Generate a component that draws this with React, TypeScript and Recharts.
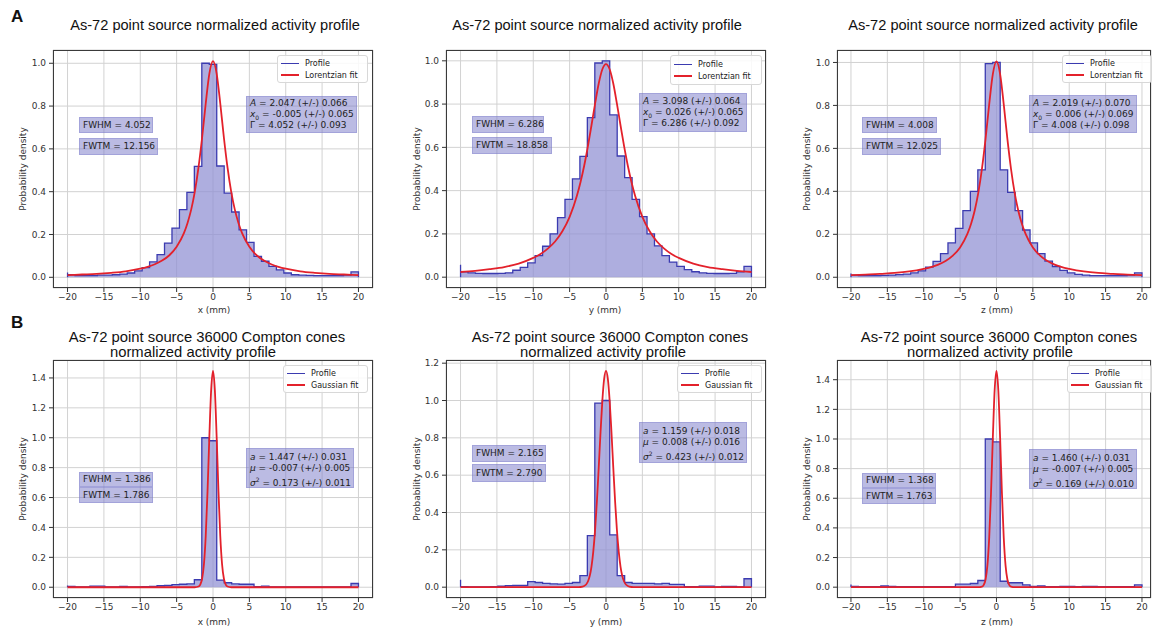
import React from 'react';
import { ComposedChart, Area, Line, XAxis, YAxis, CartesianGrid } from 'recharts';

const X_TICKS = [-20, -15, -10, -5, 0, 5, 10, 15, 20];
const Y_TICKS_10 = [0, 0.2, 0.4, 0.6, 0.8, 1.0];
const Y_TICKS_12 = [0, 0.2, 0.4, 0.6, 0.8, 1.0, 1.2];
const Y_TICKS_14 = [0, 0.2, 0.4, 0.6, 0.8, 1.0, 1.2, 1.4];

// histogram: 39 bins from -20 to 20 mm
const BIN_START = -20;
const BIN_END = 20;

const PROFILE_A_X = [0.012, 0.008, 0.008, 0.008, 0.01, 0.01, 0.012, 0.015, 0.02, 0.03, 0.045, 0.072, 0.106, 0.16, 0.23, 0.316, 0.397, 0.518, 1.0, 0.995, 0.52, 0.393, 0.305, 0.222, 0.163, 0.098, 0.075, 0.051, 0.035, 0.02, 0.012, 0.01, 0.009, 0.008, 0.008, 0.008, 0.008, 0.01, 0.025];
const PROFILE_A_Y = [0.025, 0.02, 0.018, 0.017, 0.017, 0.018, 0.02, 0.032, 0.045, 0.066, 0.1, 0.143, 0.2, 0.275, 0.36, 0.454, 0.558, 0.737, 0.99, 1.0, 0.75, 0.56, 0.46, 0.36, 0.28, 0.2, 0.145, 0.1, 0.07, 0.05, 0.035, 0.025, 0.02, 0.018, 0.017, 0.017, 0.018, 0.025, 0.05];
const PROFILE_A_Z = [0.01, 0.008, 0.008, 0.008, 0.009, 0.01, 0.012, 0.015, 0.02, 0.03, 0.047, 0.074, 0.11, 0.16, 0.228, 0.31, 0.4, 0.5, 0.995, 1.0, 0.5, 0.395, 0.31, 0.22, 0.16, 0.11, 0.075, 0.05, 0.032, 0.02, 0.013, 0.01, 0.008, 0.008, 0.008, 0.008, 0.008, 0.01, 0.02];
const PROFILE_B_X = [0.006, 0.003, 0.003, 0.008, 0.008, 0.003, 0.003, 0.005, 0.002, 0.003, 0.004, 0.006, 0.01, 0.012, 0.018, 0.02, 0.022, 0.05, 1.0, 0.98, 0.048, 0.03, 0.022, 0.02, 0.02, 0.004, 0.008, 0.003, 0.002, 0.002, 0.002, 0.003, 0.002, 0.002, 0.002, 0.002, 0.002, 0.002, 0.025];
const PROFILE_B_Y = [0.003, 0.002, 0.002, 0.002, 0.003, 0.005, 0.008, 0.01, 0.01, 0.03, 0.025, 0.02, 0.018, 0.016, 0.02, 0.025, 0.062, 0.276, 0.986, 1.0, 0.28, 0.062, 0.025, 0.02, 0.02, 0.02, 0.018, 0.02, 0.015, 0.015, 0.003, 0.003, 0.006, 0.006, 0.002, 0.004, 0.004, 0.002, 0.045];
const PROFILE_B_Z = [0.005, 0.003, 0.003, 0.003, 0.008, 0.006, 0.003, 0.003, 0.003, 0.004, 0.004, 0.003, 0.003, 0.004, 0.02, 0.02, 0.025, 0.045, 1.0, 0.98, 0.04, 0.03, 0.03, 0.015, 0.005, 0.008, 0.003, 0.003, 0.005, 0.005, 0.003, 0.005, 0.005, 0.003, 0.003, 0.003, 0.003, 0.003, 0.015];
// first-edge spike heights at x = -20
const EDGE_SPIKES = [0.022, 0.058, 0.018, 0.012, 0.04, 0.018];

const LOR_X = [-20, -18, -16, -14, -12, -10, -9, -8, -7, -6, -5, -4, -3.5, -3, -2.5, -2, -1.5, -1, -0.5, 0, 0.5, 1, 1.5, 2, 2.5, 3, 3.5, 4, 5, 6, 7, 8, 9, 10, 12, 14, 16, 18, 20];
const FIT_A_X = [0.010, 0.013, 0.016, 0.021, 0.028, 0.040, 0.049, 0.061, 0.078, 0.103, 0.143, 0.206, 0.254, 0.316, 0.400, 0.512, 0.652, 0.812, 0.952, 1.010, 0.952, 0.812, 0.652, 0.512, 0.400, 0.316, 0.254, 0.206, 0.143, 0.103, 0.078, 0.061, 0.049, 0.040, 0.028, 0.021, 0.016, 0.013, 0.010];
const FIT_A_Y = [0.024, 0.029, 0.037, 0.047, 0.063, 0.089, 0.107, 0.132, 0.165, 0.212, 0.279, 0.376, 0.440, 0.515, 0.603, 0.701, 0.802, 0.895, 0.961, 0.985, 0.961, 0.895, 0.802, 0.701, 0.603, 0.515, 0.440, 0.376, 0.279, 0.212, 0.165, 0.132, 0.107, 0.089, 0.063, 0.047, 0.037, 0.029, 0.024];
const FIT_A_Z = [0.010, 0.012, 0.016, 0.020, 0.027, 0.039, 0.047, 0.059, 0.076, 0.101, 0.139, 0.202, 0.248, 0.310, 0.393, 0.504, 0.644, 0.805, 0.946, 1.005, 0.946, 0.805, 0.644, 0.504, 0.393, 0.310, 0.248, 0.202, 0.139, 0.101, 0.076, 0.059, 0.047, 0.039, 0.027, 0.020, 0.016, 0.012, 0.010];

const GAUSS_X = [-20, -10, -5, -4, -3.5, -3, -2.5, -2, -1.75, -1.5, -1.25, -1, -0.75, -0.5, -0.25, 0, 0.25, 0.5, 0.75, 1, 1.25, 1.5, 1.75, 2, 2.5, 3, 3.5, 4, 5, 10, 20];
const FIT_B_X = [0, 0, 0, 0, 0, 0, 0, 0.005, 0.018, 0.057, 0.152, 0.343, 0.643, 1.009, 1.322, 1.447, 1.322, 1.009, 0.643, 0.343, 0.152, 0.057, 0.018, 0.005, 0, 0, 0, 0, 0, 0, 0];
const FIT_B_Y = [0, 0, 0, 0, 0.001, 0.006, 0.029, 0.109, 0.190, 0.307, 0.460, 0.642, 0.831, 1.000, 1.117, 1.159, 1.117, 1.000, 0.831, 0.642, 0.460, 0.307, 0.190, 0.109, 0.029, 0.006, 0.001, 0, 0, 0, 0];
const FIT_B_Z = [0, 0, 0, 0, 0, 0, 0, 0.004, 0.016, 0.052, 0.145, 0.333, 0.635, 1.009, 1.331, 1.460, 1.331, 1.009, 0.635, 0.333, 0.145, 0.052, 0.016, 0.004, 0, 0, 0, 0, 0, 0, 0];

const TITLE_A = 'As-72 point source normalized activity profile';
const TITLE_B1 = 'As-72 point source 36000 Compton cones';
const TITLE_B2 = 'normalized activity profile';
const AXIS_NAMES = ['x (mm)', 'y (mm)', 'z (mm)'];
const FWHM_VALUES = ['4.052', '6.286', '4.008', '1.386', '2.165', '1.368'];
const FWTM_VALUES = ['12.156', '18.858', '12.025', '1.786', '2.790', '1.763'];
const LOR_PARAMS = [
  ['2.047 (+/-) 0.066', '-0.005 (+/-) 0.065', '4.052 (+/-) 0.093'],
  ['3.098 (+/-) 0.064', '0.026 (+/-) 0.065', '6.286 (+/-) 0.092'],
  ['2.019 (+/-) 0.070', '0.006 (+/-) 0.069', '4.008 (+/-) 0.098'],
];
const GAUSS_PARAMS = [
  ['1.447 (+/-) 0.031', '-0.007 (+/-) 0.005', '0.173 (+/-) 0.011'],
  ['1.159 (+/-) 0.018', '0.008 (+/-) 0.016', '0.423 (+/-) 0.012'],
  ['1.460 (+/-) 0.031', '-0.007 (+/-) 0.005', '0.169 (+/-) 0.010'],
];

const PROFILE_STROKE = '#3b3bb0';
const PROFILE_FILL = '#8f8fd2';
const FIT_COLOR = '#e3212b';
const BOX_BG = 'rgba(120,120,200,0.5)';
const TICK_FONT = 'DejaVu Sans, sans-serif';
const TITLE_FONT = 'Liberation Sans, Arial, sans-serif';

type Rect = { l: number; t: number; w: number; h: number };
type PanelSpec = {
  plot: Rect;
  xDomain: [number, number];
  yDomain: [number, number];
  yTicks: number[];
  profile: number[];
  spike: number;
  fitX: number[];
  fit: number[];
  fitName: string;
  axis: string;
  kind: 'lor' | 'gauss';
  params: string[];
  fwhm: string;
  fwtm: string;
  paramBox: Rect;
  fwhmBox: Rect;
  fwtmBox: Rect;
  legend: Rect;
  title: { x: number; y: number }[];
  xLabel: { x: number; y: number };
  yLabelX: number;
};

const PANELS: PanelSpec[] = [
  {
    plot: { l: 53, t: 50, w: 320, h: 238 }, xDomain: [-22, 22], yDomain: [-0.05, 1.062], yTicks: Y_TICKS_10,
    profile: PROFILE_A_X, spike: EDGE_SPIKES[0], fitX: LOR_X, fit: FIT_A_X, fitName: 'Lorentzian fit', axis: AXIS_NAMES[0],
    kind: 'lor', params: LOR_PARAMS[0], fwhm: FWHM_VALUES[0], fwtm: FWTM_VALUES[0],
    paramBox: { l: 246, t: 96, w: 111, h: 37 }, fwhmBox: { l: 79, t: 117, w: 74, h: 16 }, fwtmBox: { l: 79, t: 138, w: 79, h: 17 },
    legend: { l: 277, t: 55, w: 91, h: 28 }, title: [{ x: 215, y: 25 }], xLabel: { x: 214, y: 310 }, yLabelX: 23,
  },
  {
    plot: { l: 446, t: 50, w: 320, h: 238 }, xDomain: [-22, 22], yDomain: [-0.05, 1.05], yTicks: Y_TICKS_10,
    profile: PROFILE_A_Y, spike: EDGE_SPIKES[1], fitX: LOR_X, fit: FIT_A_Y, fitName: 'Lorentzian fit', axis: AXIS_NAMES[1],
    kind: 'lor', params: LOR_PARAMS[1], fwhm: FWHM_VALUES[1], fwtm: FWTM_VALUES[1],
    paramBox: { l: 639, t: 93, w: 108, h: 39 }, fwhmBox: { l: 472, t: 116, w: 72, h: 17 }, fwtmBox: { l: 472, t: 137, w: 80, h: 17 },
    legend: { l: 670, t: 55, w: 92, h: 30 }, title: [{ x: 597, y: 25 }], xLabel: { x: 605, y: 310 }, yLabelX: 417,
  },
  {
    plot: { l: 837, t: 50, w: 314, h: 238 }, xDomain: [-21.92, 21.24], yDomain: [-0.05, 1.058], yTicks: Y_TICKS_10,
    profile: PROFILE_A_Z, spike: EDGE_SPIKES[2], fitX: LOR_X, fit: FIT_A_Z, fitName: 'Lorentzian fit', axis: AXIS_NAMES[2],
    kind: 'lor', params: LOR_PARAMS[2], fwhm: FWHM_VALUES[2], fwtm: FWTM_VALUES[2],
    paramBox: { l: 1029, t: 95, w: 108, h: 38 }, fwhmBox: { l: 862, t: 117, w: 75, h: 16 }, fwtmBox: { l: 862, t: 138, w: 79, h: 17 },
    legend: { l: 1062, t: 55, w: 90, h: 28 }, title: [{ x: 993, y: 25 }], xLabel: { x: 997, y: 310 }, yLabelX: 807,
  },
  {
    plot: { l: 53, t: 360, w: 320, h: 238 }, xDomain: [-22, 22], yDomain: [-0.072, 1.52], yTicks: Y_TICKS_14,
    profile: PROFILE_B_X, spike: EDGE_SPIKES[3], fitX: GAUSS_X, fit: FIT_B_X, fitName: 'Gaussian fit', axis: AXIS_NAMES[0],
    kind: 'gauss', params: GAUSS_PARAMS[0], fwhm: FWHM_VALUES[3], fwtm: FWTM_VALUES[3],
    paramBox: { l: 246, t: 448, w: 108, h: 40 }, fwhmBox: { l: 79, t: 472, w: 74, h: 15 }, fwtmBox: { l: 79, t: 487, w: 74, h: 16 },
    legend: { l: 283, t: 365, w: 85, h: 28 }, title: [{ x: 207, y: 337 }, { x: 193, y: 352 }], xLabel: { x: 214, y: 622 }, yLabelX: 23,
  },
  {
    plot: { l: 446, t: 360, w: 320, h: 238 }, xDomain: [-22, 22], yDomain: [-0.058, 1.217], yTicks: Y_TICKS_12,
    profile: PROFILE_B_Y, spike: EDGE_SPIKES[4], fitX: GAUSS_X, fit: FIT_B_Y, fitName: 'Gaussian fit', axis: AXIS_NAMES[1],
    kind: 'gauss', params: GAUSS_PARAMS[1], fwhm: FWHM_VALUES[4], fwtm: FWTM_VALUES[4],
    paramBox: { l: 639, t: 422, w: 108, h: 41 }, fwhmBox: { l: 472, t: 445, w: 74, h: 17 }, fwtmBox: { l: 472, t: 464, w: 74, h: 18 },
    legend: { l: 677, t: 365, w: 85, h: 28 }, title: [{ x: 610, y: 337 }, { x: 603, y: 352 }], xLabel: { x: 606, y: 622 }, yLabelX: 417,
  },
  {
    plot: { l: 837, t: 360, w: 314, h: 238 }, xDomain: [-21.92, 21.24], yDomain: [-0.073, 1.533], yTicks: Y_TICKS_14,
    profile: PROFILE_B_Z, spike: EDGE_SPIKES[5], fitX: GAUSS_X, fit: FIT_B_Z, fitName: 'Gaussian fit', axis: AXIS_NAMES[2],
    kind: 'gauss', params: GAUSS_PARAMS[2], fwhm: FWHM_VALUES[5], fwtm: FWTM_VALUES[5],
    paramBox: { l: 1029, t: 449, w: 108, h: 40 }, fwhmBox: { l: 862, t: 473, w: 74, h: 15 }, fwtmBox: { l: 862, t: 488, w: 74, h: 16 },
    legend: { l: 1067, t: 365, w: 85, h: 28 }, title: [{ x: 999, y: 337 }, { x: 990, y: 352 }], xLabel: { x: 997, y: 622 }, yLabelX: 807,
  },
];

// step outline points: bin edges with the bin height held until the next edge
function toSteps(values: number[], spike: number) {
  const w = (BIN_END - BIN_START) / values.length;
  const pts = [{ x: BIN_START, y: 0 }, { x: BIN_START, y: spike }];
  values.forEach((v, i) => pts.push({ x: BIN_START + i * w, y: v }));
  pts.push({ x: BIN_END, y: values[values.length - 1] });
  pts.push({ x: BIN_END, y: 0 });
  return pts;
}

const fmtX = (v: number) => (v < 0 ? '\u2212' + Math.abs(v) : String(v));
const fmtY = (v: number) => v.toFixed(1);

const YW = 40;
const MT = 10;
const MR = 10;
const XH = 30;

function boxStyle(r: Rect): React.CSSProperties {
  return {
    position: 'absolute', left: r.l, top: r.t, width: r.w, height: r.h, background: BOX_BG,
    border: '1px solid rgba(120,120,200,0.35)', boxSizing: 'border-box', fontFamily: TICK_FONT, fontSize: 9,
    color: '#222', padding: '0 3px', display: 'flex', flexDirection: 'column', justifyContent: 'center', lineHeight: '11px',
    whiteSpace: 'nowrap',
  };
}

function ParamLines({ kind, params }: { kind: 'lor' | 'gauss'; params: string[] }) {
  const syms =
    kind === 'lor'
      ? [<i key="a">A</i>, <span key="b"><i>x</i><sub style={{ fontSize: 6 }}>0</sub></span>, <span key="c">Γ</span>]
      : [<i key="a">a</i>, <i key="b">μ</i>, <span key="c"><i>σ</i><sup style={{ fontSize: 6 }}>2</sup></span>];
  return (
    <>
      {params.map((p, i) => (
        <div key={i} style={{ height: 11 }}>
          {syms[i]} = {p}
        </div>
      ))}
    </>
  );
}

function Panel({ p }: { p: PanelSpec }) {
  const histData = toSteps(p.profile, p.spike);
  const fitData = p.fitX.map((x, i) => ({ x, y: p.fit[i] }));
  const tickStyle = { fill: '#333', fontSize: 9, fontFamily: TICK_FONT };
  return (
    <>
      <div style={{ position: 'absolute', left: p.plot.l - YW, top: p.plot.t - MT }}>
        <ComposedChart width={YW + p.plot.w + MR} height={MT + p.plot.h + XH} margin={{ top: MT, right: MR, bottom: 0, left: 0 }}>
          <CartesianGrid stroke="#d2d2d2" strokeWidth={1} />
          <XAxis
            type="number" dataKey="x" domain={p.xDomain} ticks={X_TICKS} allowDataOverflow height={XH} interval={0}
            tick={tickStyle} tickFormatter={fmtX} tickSize={4} tickMargin={2} axisLine={false} tickLine={{ stroke: '#333' }}
          />
          <YAxis
            type="number" domain={p.yDomain} ticks={p.yTicks} allowDataOverflow width={YW} interval={0}
            tick={tickStyle} tickFormatter={fmtY} tickSize={4} tickMargin={3} axisLine={false} tickLine={{ stroke: '#333' }}
          />
          <Area
            data={histData} dataKey="y" type="stepAfter" baseValue={0} stroke={PROFILE_STROKE} strokeWidth={1.3}
            fill={PROFILE_FILL} fillOpacity={0.72} dot={false} activeDot={false} isAnimationActive={false}
          />
          <Line
            data={fitData} dataKey="y" type="monotone" stroke={FIT_COLOR} strokeWidth={1.8}
            dot={false} activeDot={false} isAnimationActive={false}
          />
        </ComposedChart>
      </div>
      <div style={{ position: 'absolute', left: p.plot.l, top: p.plot.t, width: p.plot.w, height: p.plot.h, border: '1px solid #3a3a3a', boxSizing: 'border-box', pointerEvents: 'none' }} />
      <div style={{ position: 'absolute', left: p.legend.l, top: p.legend.t, width: p.legend.w, height: p.legend.h, background: 'rgba(255,255,255,0.85)', border: '1px solid #d8d8d8', borderRadius: 3, boxSizing: 'border-box', fontFamily: TICK_FONT, fontSize: 8, color: '#222', padding: '1px 3px', whiteSpace: 'nowrap', display: 'flex', flexDirection: 'column', justifyContent: 'center' }}>
        <div style={{ display: 'flex', alignItems: 'center', height: 12 }}>
          <span style={{ width: 18, height: 0, borderTop: `1.5px solid ${PROFILE_STROKE}`, marginRight: 6, flexShrink: 0 }} />Profile
        </div>
        <div style={{ display: 'flex', alignItems: 'center', height: 12 }}>
          <span style={{ width: 18, height: 0, borderTop: `2px solid ${FIT_COLOR}`, marginRight: 6, flexShrink: 0 }} />{p.fitName}
        </div>
      </div>
      <div style={boxStyle(p.paramBox)}>
        <ParamLines kind={p.kind} params={p.params} />
      </div>
      <div style={boxStyle(p.fwhmBox)}>FWHM = {p.fwhm}</div>
      <div style={boxStyle(p.fwtmBox)}>FWTM = {p.fwtm}</div>
      {(p.title.length === 1 ? [TITLE_A] : [TITLE_B1, TITLE_B2]).map((t, i) => (
        <div key={i} style={{ position: 'absolute', left: p.title[i].x - 200, top: p.title[i].y - 9, width: 400, textAlign: 'center', fontFamily: TITLE_FONT, fontSize: p.title.length === 1 ? 14.6 : 14.8, lineHeight: '18px', color: '#111', whiteSpace: 'nowrap' }}>
          {t}
        </div>
      ))}
      <div style={{ position: 'absolute', left: p.xLabel.x - 40, top: p.xLabel.y - 6, width: 80, textAlign: 'center', fontFamily: TICK_FONT, fontSize: 9, lineHeight: '12px', color: '#333' }}>
        {p.axis}
      </div>
      <div style={{ position: 'absolute', left: p.yLabelX - 60, top: p.plot.t + p.plot.h / 2 - 6, width: 120, textAlign: 'center', fontFamily: TICK_FONT, fontSize: 9, lineHeight: '12px', color: '#333', transform: 'rotate(-90deg)' }}>
        Probability density
      </div>
    </>
  );
}

export default function App() {
  return (
    <div style={{ position: 'relative', width: 1158, height: 633, background: '#fff', overflow: 'hidden' }}>
      <style>{'body{margin:0}'}</style>
      {PANELS.map((p, i) => (
        <Panel key={i} p={p} />
      ))}
      <div style={{ position: 'absolute', left: 11, top: 7, fontFamily: TITLE_FONT, fontWeight: 'bold', fontSize: 17, color: '#111' }}>A</div>
      <div style={{ position: 'absolute', left: 11, top: 313, fontFamily: TITLE_FONT, fontWeight: 'bold', fontSize: 17, color: '#111' }}>B</div>
    </div>
  );
}
